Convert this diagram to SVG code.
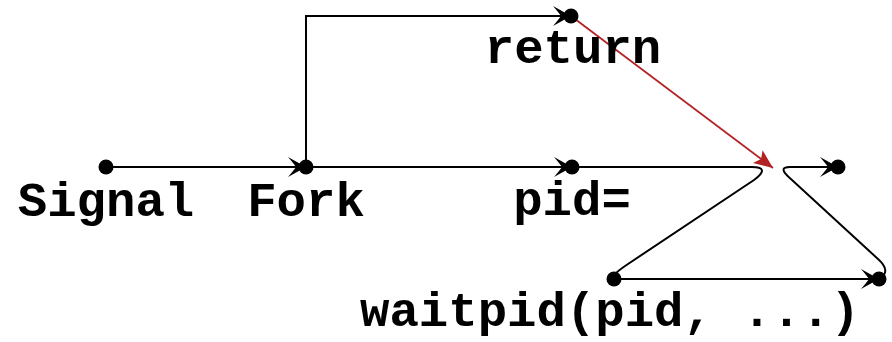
<svg xmlns="http://www.w3.org/2000/svg" width="892" height="342" viewBox="0 0 892 342">
  <style>
    .wire { fill: none; stroke: #000; stroke-width: 2; }
    .jump { fill: none; stroke: #b22222; stroke-width: 1.8; }
    .dot { fill: #000; }
    .lbl { font-family: "Liberation Mono", "Courier New", monospace; font-weight: bold; font-size: 49px; fill: #000; text-anchor: middle; }
  </style>
  <defs>
    <marker id="head" markerUnits="userSpaceOnUse" markerWidth="24" markerHeight="24" viewBox="-20 -12 24 24" refX="0" refY="0" orient="auto">
      <path d="M0,0 L-18,-10 Q-12,-3 -10,0 Q-12,3 -18,10 Z" fill="#000"/>
    </marker>
    <marker id="headRed" markerUnits="userSpaceOnUse" markerWidth="24" markerHeight="24" viewBox="-20 -12 24 24" refX="0" refY="0" orient="auto">
      <path d="M0,0 L-19,-8 L-15,0 L-19,8 Z" fill="#b22222"/>
    </marker>
  </defs>

  <g id="connectors">
    <path class="wire" d="M106,167 H306" marker-end="url(#head)"/>
    <path class="wire" d="M306,167 V16 H571" marker-end="url(#head)"/>
    <path class="wire" d="M306,167 H572" marker-end="url(#head)"/>
    <path class="wire" d="M572,167 H752 C765,167 765,172 754,180 L628,264 C613,274 610,279 614,279"/>
    <path class="wire" d="M614,279 H879" marker-end="url(#head)"/>
    <path class="wire" d="M879,279 C888,274 887,267 878,259 L792,180 C780,170 782,167 790,167 H838" marker-end="url(#head)"/>
    <path class="jump" d="M571,16 L773,168" marker-end="url(#headRed)"/>
  </g>

  <g id="signal">
    <circle class="dot" cx="106" cy="167" r="7.5"/>
    <text class="lbl" x="106" y="216">Signal</text>
  </g>
  <g id="fork">
    <circle class="dot" cx="306" cy="167" r="7.5"/>
    <text class="lbl" x="306" y="216">Fork</text>
  </g>
  <g id="return">
    <circle class="dot" cx="571" cy="16" r="7.5"/>
    <text class="lbl" x="573" y="63">return</text>
  </g>
  <g id="pid">
    <circle class="dot" cx="572" cy="167" r="7.5"/>
    <text class="lbl" x="572" y="215">pid=</text>
  </g>
  <g id="after">
    <circle class="dot" cx="838" cy="167" r="7.5"/>
  </g>
  <g id="waitpid">
    <circle class="dot" cx="614" cy="279" r="7.5"/>
    <text class="lbl" x="610" y="326">waitpid(pid, ...)</text>
  </g>
  <g id="waitpid-end">
    <circle class="dot" cx="879" cy="279" r="7.5"/>
  </g>
</svg>
